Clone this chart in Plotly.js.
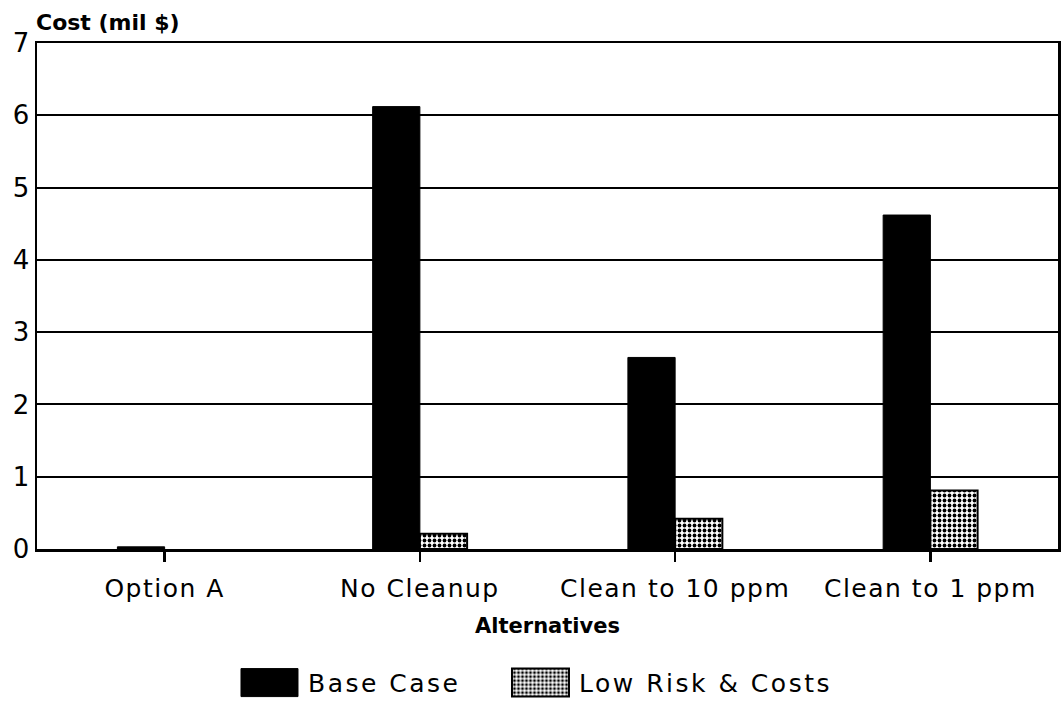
<!DOCTYPE html>
<html>
<head>
<meta charset="utf-8">
<script src="https://cdn.plot.ly/plotly-3.0.1.min.js"></script>
<style>
html,body{margin:0;padding:0;background:#fff;}
#chart{width:1061px;height:708px;}
#chart .xtick text{letter-spacing:1.5px;}
#chart .legendtext{letter-spacing:2.5px;}
</style>
</head>
<body>
<div id="chart"></div>
<script>
const categories = ["Option A", "No Cleanup", "Clean to 10 ppm", "Clean to 1 ppm"];
const baseCase = [0.03, 6.12, 2.65, 4.62];
const lowRisk = [null, 0.21, 0.42, 0.81];
const yTicks = [0, 1, 2, 3, 4, 5, 6, 7];

const fontFam = "DejaVu Sans, Verdana, sans-serif";

const traces = [
  {
    type: "bar", name: "Base Case", x: categories, y: baseCase,
    marker: {color: "#000", line: {color: "#000", width: 1}},
    hoverinfo: "skip"
  },
  {
    type: "bar", name: "Low Risk & Costs", x: categories, y: lowRisk,
    marker: {
      color: "#fff",
      line: {color: "#000", width: 2},
      pattern: {shape: ".", fgcolor: "#000", bgcolor: "#fff", size: 5, solidity: 0.45}
    },
    hoverinfo: "skip"
  }
];

const layout = {
  width: 1061, height: 708,
  margin: {l: 37, r: 3, t: 43, b: 158},
  paper_bgcolor: "#fff", plot_bgcolor: "#fff",
  barmode: "group", bargap: 0.63, bargroupgap: 0,
  font: {family: fontFam, color: "#000", size: 25},
  showlegend: true,
  legend: {
    orientation: "h", x: 0.19, xanchor: "left", y: -0.262, yanchor: "middle",
    font: {size: 25, family: fontFam}, itemwidth: 67, entrywidth: 189,
    traceorder: "normal", bgcolor: "rgba(0,0,0,0)"
  },
  xaxis: {
    type: "category", range: [-0.5, 3.5],
    showline: true, linecolor: "#000", linewidth: 2.5, mirror: true,
    ticks: "outside", ticklen: 10, tickwidth: 2.5, tickcolor: "#000",
    tickfont: {size: 25, family: fontFam}, ticklabelstandoff: 5,
    showgrid: false, tickangle: 0,
    title: {text: "<b>Alternatives</b>", font: {size: 21, family: fontFam}, standoff: 17}
  },
  yaxis: {
    range: [0, 7], tickvals: yTicks, ticktext: yTicks.map(String),
    showline: true, linecolor: "#000", linewidth: 2.5, mirror: true,
    ticks: "", tickfont: {size: 26, family: fontFam}, ticklabelstandoff: 0,
    showgrid: true, gridcolor: "#000", gridwidth: 2,
    zeroline: false
  },
  annotations: [
    {text: "<b>Cost (mil $)</b>", xref: "paper", yref: "paper", x: 0, y: 1, xanchor: "left", yanchor: "bottom",
     xshift: -3, yshift: 6, showarrow: false, font: {size: 22, family: fontFam}}
  ]
};

Plotly.newPlot("chart", traces, layout, {staticPlot: true}).then(function (gd) {
  // enlarge the legend swatches to match the reference's wide boxes
  gd.querySelectorAll(".legend .legendpoints path").forEach(function (p) {
    p.setAttribute("d", "M28.5,14H-28.5V-14H28.5Z");
  });
  // letter-spaced legend text is wider than Plotly measured; do not clip it
  gd.querySelectorAll(".legend [clip-path]").forEach(function (el) {
    el.removeAttribute("clip-path");
  });
});
</script>
</body>
</html>
